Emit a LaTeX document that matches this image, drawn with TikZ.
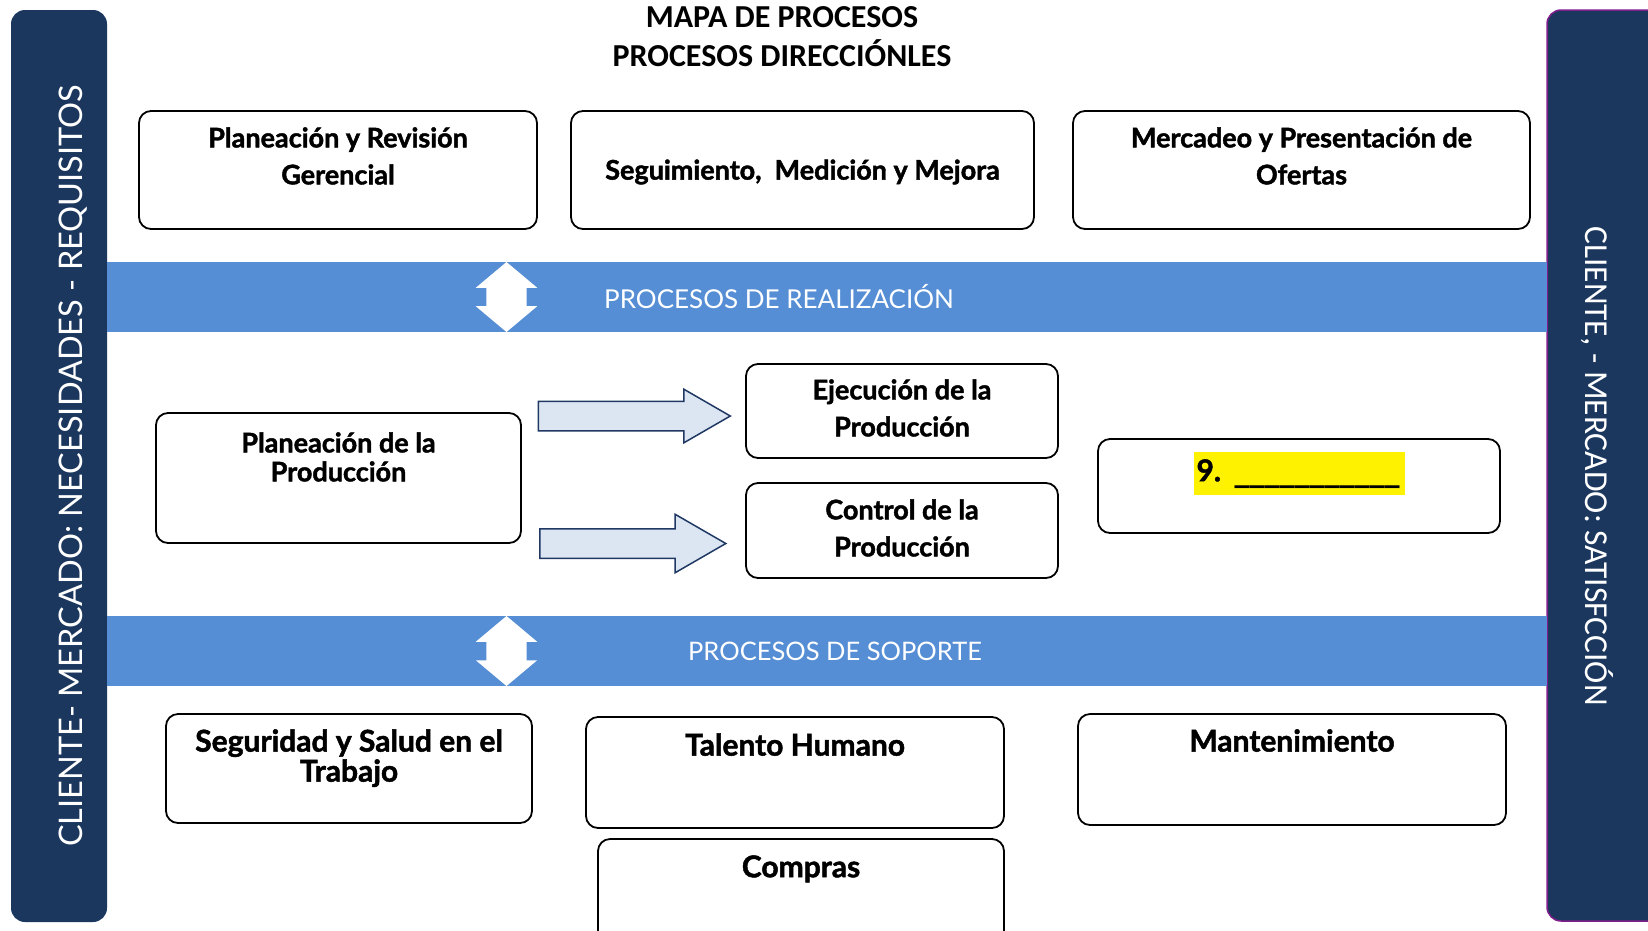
\documentclass[tikz,border=0pt]{standalone}
\usepackage{fontspec}
\setmainfont{Lato}[BoldFeatures={FakeBold=1.6}]
\newfontfamily\titlefont{Carlito}
\newfontfamily\sidefont{Carlito}
\newfontfamily\linefont{DejaVu Sans}
\usepackage{tikz}
\usetikzlibrary{positioning}
\usetikzlibrary{shapes.arrows}

\definecolor{barblue}{RGB}{27,55,94}
\definecolor{bandblue}{RGB}{85,142,213}
\definecolor{arrowfill}{RGB}{220,230,242}
\definecolor{arrowline}{RGB}{32,56,100}
\definecolor{barpurple}{RGB}{128,30,140}

\begin{document}
\begin{tikzpicture}[x=1pt,y=-1pt,
  proc/.style={draw=black,line width=1.8pt,rounded corners=12pt,fill=white,inner sep=0pt},
  ptext/.style={font=\fontsize{27}{37}\selectfont\bfseries,align=center,inner sep=0pt},
  stext/.style={ptext,font=\fontsize{30}{30}\selectfont\bfseries},
  band/.style={fill=bandblue,inner sep=0pt,minimum width=1440pt,minimum height=70pt},
  bandtext/.style={text=white,font=\fontsize{26}{30}\selectfont,inner sep=0pt},
  updown/.style={double arrow,fill=white,rotate=90,inner xsep=0pt,inner ysep=20pt,minimum height=70pt,double arrow head extend=10.5pt,double arrow tip angle=100},
  flow/.style={single arrow,fill=arrowfill,draw=arrowline,line width=1.5pt,inner xsep=0pt,inner ysep=14pt,single arrow head extend=12pt,single arrow tip angle=60}]
      \tikzstyle{sidebar}=[fill=barblue,rounded corners=14pt,inner sep=0pt]
      \tikzstyle{sidetext}=[text=white,inner sep=0pt]

      \useasboundingbox (0,0) rectangle (1648,930);

     \node [sidebar,minimum width=96pt,minimum height=912pt] (lbar) at (59,466) {};
     \node [sidetext,rotate=90,font=\fontsize{32.5}{38}\selectfont] (lbar-t) at (73,466) {CLIENTE- MERCADO: NECESIDADES - REQUISITOS};
     \node [sidebar,draw=barpurple,line width=1.5pt,minimum width=115pt,minimum height=911pt] (rbar) at (1604.5,465.5) {};
     \node [sidetext,rotate=-90,font=\sidefont\fontsize{33.5}{36}\selectfont] (rbar-t) at (1597,466) {CLIENTE, - MERCADO: SATISFCCIÓN};

     \node [inner sep=0pt,align=center,font=\titlefont\fontsize{32}{39}\selectfont\bfseries] (title) at (782,36.5) {MAPA DE PROCESOS\\PROCESOS DIRECCIÓNLES};

     \node [proc,minimum width=398pt,minimum height=118pt] (prg) at (338,170) {};
     \node [ptext,below=17pt of prg.north] (prg-t) {Planeación y Revisión\\Gerencial};
     \node [proc,minimum width=463pt,minimum height=118pt] (smm) at (802.5,170) {};
     \node [ptext] (smm-t) at (802.5,172) {Seguimiento,~ Medición y Mejora};
     \node [proc,minimum width=457pt,minimum height=118pt] (mpo) at (1301.5,170) {};
     \node [ptext,below=17pt of mpo.north] (mpo-t) {Mercadeo y Presentación de\\Ofertas};

     \node [band] (real) at (827,297) {};
     \node [updown] (real-a) at (506.5,297) {};
     \node [bandtext] (real-t) at (779,297) {PROCESOS DE REALIZACIÓN};

     \node [proc,minimum width=365pt,minimum height=130pt] (ppl) at (338.5,478) {};
     \node [ptext,font=\fontsize{27}{29}\selectfont\bfseries,below=20pt of ppl.north] (ppl-t) {Planeación de la\\Producción};
     \node [proc,minimum width=312pt,minimum height=94pt] (eje) at (902,411) {};
     \node [ptext,below=16pt of eje.north] (eje-t) {Ejecución de la\\Producción};
     \node [proc,minimum width=312pt,minimum height=95pt] (ctl) at (902,530.5) {};
     \node [ptext,below=17pt of ctl.north] (ctl-t) {Control de la\\Producción};
     \node [flow,minimum height=192pt] (f1) at (621.5,416) {};
     \node [flow,minimum height=186pt,single arrow head extend=14.5pt] (f2) at (620,543.5) {};
     \node [proc,minimum width=402pt,minimum height=94pt] (nine) at (1299,486) {};
     \node [ptext,fill=yellow,text width=205pt,align=left,inner xsep=3pt,minimum height=43pt,below=14pt of nine.north] (nine-t) {\fontsize{30}{37}\selectfont 9. {\linefont\_\_\_\_\_\_\_\_\_\_\_}};

     \node [band] (sop) at (827,651) {};
     \node [updown] (sop-a) at (506.5,651) {};
     \node [bandtext,font=\fontsize{25.5}{30}\selectfont] (sop-t) at (835,651) {PROCESOS DE SOPORTE};

     \node [proc,minimum width=366pt,minimum height=109pt] (ssl) at (349,768.5) {};
     \node [stext,below=16pt of ssl.north] (ssl-t) {Seguridad y Salud en el\\Trabajo};
     \node [proc,minimum width=418pt,minimum height=111pt] (tal) at (795,772.5) {};
     \node [stext,below=17pt of tal.north] (tal-t) {Talento Humano};
     \node [proc,minimum width=406pt,minimum height=110pt] (com) at (801,894) {};
     \node [stext,below=17pt of com.north] (com-t) {Compras};
     \node [proc,minimum width=428pt,minimum height=111pt] (man) at (1292,769.5) {};
     \node [stext,below=16pt of man.north] (man-t) {Mantenimiento};

  \end{tikzpicture}
\end{document}
